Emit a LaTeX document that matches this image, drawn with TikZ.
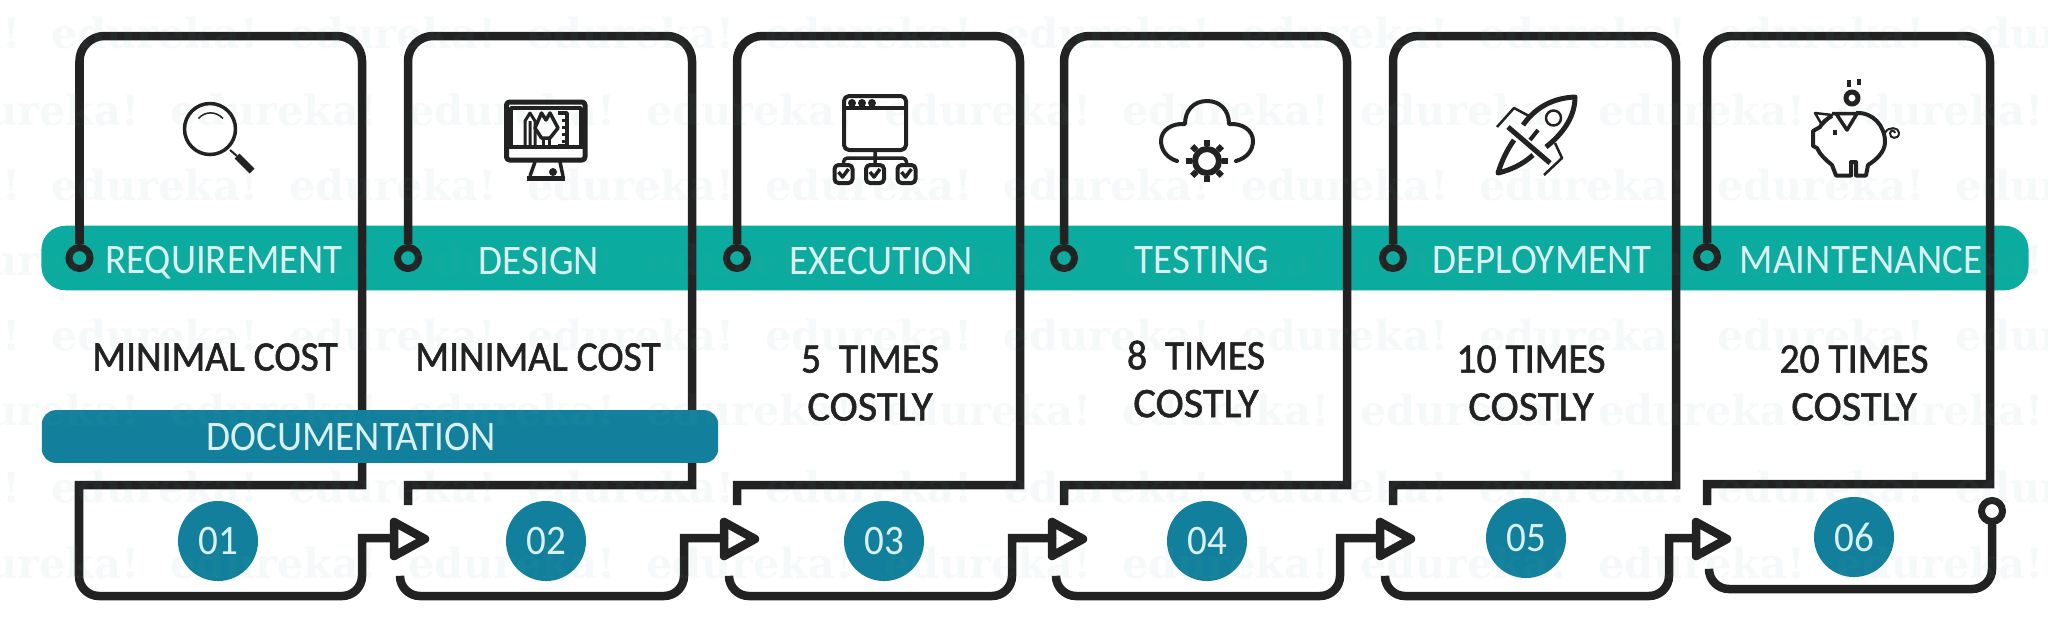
\documentclass[tikz,border=0pt]{standalone}
\usepackage{fontspec}
\setmainfont{Carlito}[FakeStretch=0.93]
\newfontfamily\wmfont{DejaVu Serif}[BoldFont={DejaVu Serif Bold}]
\newfontfamily\costfont{Carlito}[FakeStretch=0.94,FakeBold=1.4]
\newfontfamily\costlyfont{Carlito}[FakeStretch=1.01,FakeBold=1.4]
\usetikzlibrary{shapes.geometric}

\definecolor{inkdark}{HTML}{222222}
\definecolor{bandteal}{HTML}{0CAB9F}
\definecolor{deepteal}{HTML}{12809C}
\definecolor{palelabel}{HTML}{D9F0EE}
\definecolor{wmink}{HTML}{68A99E}

\tikzset{
  flowline/.style = {draw=inkdark, line width=.085cm},
  icon/.style = {draw=inkdark, line width=.035cm, line join=round},
  ringdot/.style = {circle, draw=inkdark, line width=.07cm, minimum size=.21cm, inner sep=0pt},
  flowtri/.style = {isosceles triangle, isosceles triangle stretches, draw=inkdark, fill=white, line width=.085cm,
    line join=round, minimum width=.34cm, minimum height=.31cm, inner sep=0pt, outer sep=0pt, anchor=lower side},
  numdisc/.style = {circle, fill=deepteal, minimum size=.8cm, inner sep=0pt},
  steplabel/.style = {text=palelabel, inner sep=0pt, text depth=0pt, font=\fontsize{11.95}{13.5}\selectfont},
  costlabel/.style = {text=inkdark, inner sep=0pt, align=center, font=\costfont\fontsize{11.95}{13.6}\selectfont},
  wmark/.style = {inner sep=0pt, text=wmink, text opacity=.06, font=\wmfont\bfseries\fontsize{11.8}{14}\selectfont},
}

\begin{document}
\begin{tikzpicture}[x=.01cm, y=-.01cm]
\path[use as bounding box, fill=white] (0,0) rectangle (2048,623);

\node[fill=bandteal, rounded corners=.24cm, minimum width=19.86cm, minimum height=.645cm, inner sep=0pt] (band) at (1035,258) {};

% dots on the band
\foreach \n/\x/\y in {1/79.5/258, 2/408/258, 3/737/258, 4/1064/258, 5/1393/258, 6/1707/257}{
  \node[ringdot, fill=bandteal] (dot\n) at (\x,\y) {};
}
\node[ringdot, fill=white] (enddot) at (1992,511) {};

% arrow heads
\foreach \n/\t in {1/394, 2/724, 3/1052, 4/1380, 5/1696}{
  \node[flowtri] (tri\n) at (\t,539) {};
}

% first step
\coordinate (out1) at (362,538);
\draw[flowline] (dot1.north) [rounded corners=.25cm] -- (79.5,36) -- (362,36) [sharp corners] -- (362,485) -- (79,485)
  [rounded corners=.2cm] -- (79,596) -- (362,596) [sharp corners] -- (out1) -- (out1 -| tri1.west);

% middle steps
\foreach \n/\a/\b/\c/\d in {2/408/692/400/684, 3/737/1020/729/1012, 4/1064/1347/1056/1340, 5/1393/1676/1385/1669}{
  \coordinate (out\n) at (\d,538);
  \draw[flowline] (dot\n.north) [rounded corners=.25cm] -- (\a,36) -- (\b,36) [sharp corners] -- (\b,485) -- (\a,485) -- (\a,505);
  \draw[flowline, line cap=round] (\c,577) [rounded corners=.2cm] -- (\c,596) -- (\d,596) [sharp corners] -- (out\n) -- (out\n -| tri\n.west);
}

% last step
\draw[flowline] (dot6.north) [rounded corners=.25cm] -- (1707,36) -- (1990,36) [sharp corners] -- (1990,484) -- (1707,484) -- (1707,505);
\draw[flowline, line cap=round] (1709,570) [rounded corners=.2cm] -- (1709,589) -- (1992,589) -- (enddot.south);

% documentation bar
\node[fill=deepteal, rounded corners=.14cm, minimum width=6.76cm, minimum height=.527cm, inner sep=0pt] (docbar) at (380,436.5) {};
\foreach \n/\x/\y in {1/218/541, 2/546/541, 3/884/541, 4/1207/541, 5/1526/538, 6/1854/537}{
  \node[numdisc] (disc\n) at (\x,\y) {};
}

% rows of the background word
\foreach \r/\wy in {0/33,1/110,2/185,3/260,4/335,5/410,6/487,7/563}{
  \foreach \c in {-1,...,8}{
    \pgfmathsetmacro{\wx}{155+119*mod(\r,2)+238*\c}
    \ifdim\wx pt<2100pt
      \node[wmark] (wm\r\c) at (\wx,\wy) {edureka!};
    \fi
  }
}

\node[steplabel] (doclabel) at (351,436.5) {DOCUMENTATION};

% step names
\node[steplabel] (lab1) at (224,260) {REQUIREMENT};
\node[steplabel] (lab2) at (539,261) {DESIGN};
\node[steplabel] (lab3) at (881,261) {EXECUTION};
\node[steplabel] (lab4) at (1202,260) {TESTING};
\node[steplabel] (lab5) at (1542,260) {DEPLOYMENT};
\node[steplabel] (lab6) at (1861,260) {MAINTENANCE};

% costs
\node[costlabel] (cost1) at (215,357) {MINIMAL COST};
\node[costlabel] (cost2) at (538,357) {MINIMAL COST};
\node[costlabel] (cost3) at (870,383) {5~~TIMES\\{\costlyfont COSTLY}};
\node[costlabel] (cost4) at (1196,379) {8~~TIMES\\{\costlyfont COSTLY}};
\node[costlabel] (cost5) at (1531,383) {10 TIMES\\{\costlyfont COSTLY}};
\node[costlabel] (cost6) at (1854,383) {20 TIMES\\{\costlyfont COSTLY}};

% numbers
\foreach \n/\s in {1/01, 2/02, 3/03, 4/04, 5/05, 6/06}{
  \node[steplabel] (num\n) at (disc\n) {\s};
}

% magnifier
\draw[icon] (210,129) circle [radius=25.5];
\draw[icon, line width=.015cm] (198.5,118.5) .. controls (205,111) and (216,111) .. (223,118.5);
\draw[icon, line width=.02cm] (230,150) -- (237,156);
\draw[icon, line width=.07cm] (237,156) -- (252,171);

% monitor
\draw[icon, rounded corners=.03cm, line width=.05cm] (506.5,102) rectangle (585,160);
\draw[icon] (511,147) -- (511,108) -- (581,108) -- (581,147);
\draw[icon] (506,147) -- (585,147);
\draw[icon] (535,162) -- (530,176) (560,162) -- (563,176);
\draw[icon, line width=.05cm] (527,178) -- (565,178);
\fill[inkdark] (553,172) circle [radius=4];
\draw[icon, line width=.03cm] (525,146) -- (525,121) -- (530,113) -- (535,121) -- (535,146) (530,121) -- (530,146);
\draw[icon] (535,128) -- (541.5,113) -- (546,120) -- (550,113) -- (558,128) -- (550,138) -- (541.5,138) -- cycle;
\draw[icon, line width=.03cm] (543,138) -- (543,146) (549,138) -- (549,146);
\draw[icon] (558,113) -- (567,113) -- (567,146) -- (558,146);
\foreach \y in {120,127,134,141}{
  \draw[icon, line width=.03cm] (562,\y) -- (567,\y);
}

% window with three ticked boxes
\draw[icon, rounded corners=.05cm, line width=.04cm] (844,96) rectangle (906,150);
\draw[icon] (844,108) -- (906,108);
\foreach \x in {852,862,872}{
  \fill[inkdark] (\x,103) circle [radius=4];
}
\draw[icon] (875,150) -- (875,165) (843.5,165) [rounded corners=.04cm] -- (843.5,158) -- (906.5,158) -- (906.5,165);
\foreach \x in {843.5,875,906.5}{
  \draw[icon, rounded corners=.04cm, line width=.04cm] (\x-9,165) rectangle (\x+9,183);
  \draw[icon, line width=.035cm] (\x-5,172) -- (\x-1,177) -- (\x+5,169);
}

% cloud and gear
\draw[icon, line width=.04cm, line cap=round] (1177,161) .. controls (1167,158) and (1161,150) .. (1161,141)
  .. controls (1161,130) and (1172,123) .. (1185,124) .. controls (1185,110) and (1194,101) .. (1207,101)
  .. controls (1220,101) and (1229,110) .. (1229,124) .. controls (1242,123) and (1253,130) .. (1253,141)
  .. controls (1253,150) and (1247,158) .. (1236,161);
\draw[icon, line width=.06cm] (1207,161) circle [radius=12];
\foreach \a in {0,45,...,315}{
  \draw[icon, line width=.06cm] (1207,161) ++(\a:15) -- ++(\a:6);
}

% rocket
\draw[icon, line width=.05cm] (1523,125) .. controls (1535,108) and (1552,98) .. (1575,97)
  .. controls (1575,115) and (1565,132) .. (1546,147);
\draw[icon, line width=.05cm] (1514,140) .. controls (1507,150) and (1502,160) .. (1498,173)
  .. controls (1510,170) and (1522,165) .. (1533,155);
\draw[icon, line width=.025cm] (1553.5,118) circle [radius=7.5];
\draw[icon, line width=.025cm] (1497,127) -- (1514,108) -- (1529,116);
\draw[icon, line width=.025cm] (1544,175) -- (1562,158) -- (1555,143);
\draw[icon, line width=.05cm] (1508,127) -- (1550,163);
\draw[icon, line width=.04cm] (1538,130) -- (1530,140);

% piggy bank
\draw[icon, line width=.05cm] (1852,98) circle [radius=6];
\draw[icon, line width=.04cm] (1848.5,80) -- (1848.5,87) (1858.5,79) -- (1858.5,85);
\draw[icon, line width=.04cm] (1856,113) .. controls (1873,112) and (1885,126) .. (1885,142)
  .. controls (1885,152) and (1876,160) .. (1868,165) -- (1866,175.5) -- (1856,175.5) -- (1856,162) -- (1851,162) -- (1851,175.5) -- (1836,175.5)
  -- (1832,165) .. controls (1826,160) and (1820,155) .. (1817,148) -- (1813,146) -- (1813,131) -- (1820,127)
  .. controls (1822,123) and (1826,119) .. (1832,116);
\draw[icon, line width=.025cm] (1815,113) -- (1832,115) -- (1822,125) -- cycle;
\draw[icon, line width=.035cm] (1832,113.5) -- (1857,113.5) -- (1847,130) -- (1836,113.5);
\draw[icon, line width=.04cm] (1835,130) -- (1835,135);
\draw[icon, line width=.02cm] (1885,133) .. controls (1888,126) and (1899,127) .. (1899,133)
  .. controls (1899,140) and (1889,139) .. (1890,133) .. controls (1891,129) and (1895,131) .. (1895,133);
\end{tikzpicture}
\end{document}
